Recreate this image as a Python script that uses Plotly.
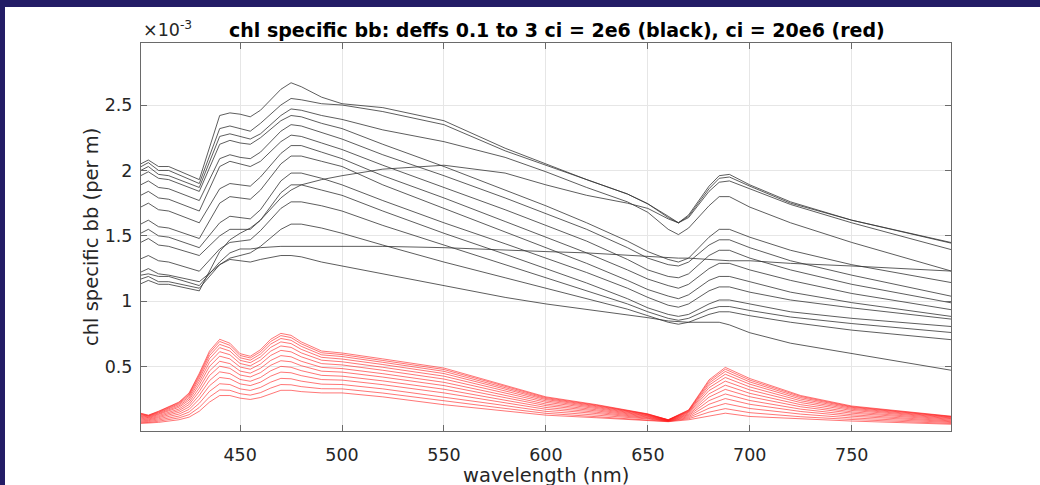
import plotly.graph_objects as go

# ---------------- data (y in units of 1e-3 per m) ----------------
wl_black = [400, 405, 410, 415, 430, 440, 445, 450, 455, 460, 470, 475, 480, 490, 500, 520,
            550, 580, 600, 620, 640, 650, 660, 665, 670, 680, 685, 690, 700, 720, 750, 800]

black_k1 = [2.04, 2.08, 2.03, 2.03, 1.93, 2.42, 2.44, 2.43, 2.41, 2.46, 2.62, 2.67, 2.64, 2.56, 2.51, 2.48,
            2.38, 2.17, 2.05, 1.93, 1.82, 1.745, 1.65, 1.60, 1.66, 1.88, 1.96, 1.97, 1.89, 1.76, 1.62, 1.445]
black_k2 = [2.017, 2.06, 2.00, 2.00, 1.90, 2.32, 2.34, 2.32, 2.30, 2.36, 2.50, 2.55, 2.54, 2.51, 2.50, 2.45,
            2.35, 2.15, 2.04, 1.93, 1.82, 1.745, 1.64, 1.60, 1.65, 1.86, 1.94, 1.95, 1.88, 1.75, 1.62, 1.44]
black_k3 = [1.99, 2.03, 1.97, 1.96, 1.87, 2.26, 2.28, 2.26, 2.24, 2.28, 2.42, 2.47, 2.46, 2.42, 2.39, 2.31,
            2.22, 2.10, 1.99, 1.87, 1.76, 1.68, 1.55, 1.51, 1.56, 1.73, 1.80, 1.80, 1.72, 1.60, 1.45, 1.226]
black_r = [1.125, 1.16, 1.13, 1.13, 1.08, 1.38, 1.47, 1.52, 1.56, 1.62, 1.79, 1.85, 1.89, 1.93, 1.96, 2.01,
           2.04, 1.98, 1.89, 1.81, 1.75, 1.71, 1.63, 1.60, 1.64, 1.84, 1.91, 1.92, 1.86, 1.74, 1.60, 1.39]
black_f = [1.196, 1.21, 1.19, 1.19, 1.12, 1.30, 1.37, 1.40, 1.40, 1.41, 1.42, 1.42, 1.42, 1.42, 1.42, 1.42,
           1.41, 1.39, 1.38, 1.37, 1.35, 1.34, 1.33, 1.33, 1.33, 1.32, 1.32, 1.31, 1.31, 1.29, 1.27, 1.23]
black_l = [1.163, 1.19, 1.15, 1.15, 1.10, 1.28, 1.32, 1.31, 1.30, 1.32, 1.35, 1.35, 1.34, 1.30, 1.27, 1.21,
           1.12, 1.03, 0.98, 0.94, 0.90, 0.875, 0.85, 0.845, 0.84, 0.84, 0.84, 0.82, 0.76, 0.68, 0.60, 0.47]
black_m1 = [1.95, 1.99, 1.94, 1.93, 1.84, 2.20, 2.23, 2.21, 2.20, 2.25, 2.38, 2.42, 2.41, 2.36, 2.32, 2.20,
            2.03, 1.85, 1.73, 1.60, 1.46, 1.38, 1.32, 1.30, 1.33, 1.49, 1.55, 1.55, 1.49, 1.39, 1.28, 1.14]
black_m2 = [1.88, 1.92, 1.87, 1.86, 1.77, 2.09, 2.12, 2.10, 2.09, 2.14, 2.30, 2.35, 2.34, 2.29, 2.24, 2.12,
            1.96, 1.79, 1.67, 1.55, 1.41, 1.33, 1.28, 1.27, 1.30, 1.43, 1.47, 1.47, 1.41, 1.31, 1.20, 1.035]
black_m3 = [1.80, 1.84, 1.79, 1.78, 1.69, 2.03, 2.07, 2.05, 2.03, 2.07, 2.22, 2.27, 2.26, 2.21, 2.16, 2.04,
            1.87, 1.70, 1.58, 1.46, 1.32, 1.24, 1.19, 1.18, 1.21, 1.35, 1.39, 1.39, 1.33, 1.24, 1.13, 0.985]
black_m4 = [1.71, 1.75, 1.70, 1.69, 1.60, 1.86, 1.90, 1.89, 1.88, 1.95, 2.13, 2.19, 2.19, 2.14, 2.09, 1.96,
            1.79, 1.61, 1.49, 1.37, 1.24, 1.17, 1.12, 1.10, 1.13, 1.25, 1.29, 1.29, 1.24, 1.16, 1.06, 0.933]
black_m5 = [1.58, 1.62, 1.57, 1.56, 1.48, 1.75, 1.80, 1.79, 1.78, 1.85, 2.05, 2.11, 2.11, 2.07, 2.03, 1.89,
            1.71, 1.53, 1.41, 1.29, 1.16, 1.09, 1.04, 1.02, 1.05, 1.16, 1.19, 1.19, 1.15, 1.07, 0.99, 0.882]
black_m6 = [1.51, 1.55, 1.50, 1.49, 1.41, 1.60, 1.65, 1.64, 1.63, 1.70, 1.92, 1.98, 1.98, 1.94, 1.89, 1.77,
            1.60, 1.44, 1.33, 1.22, 1.10, 1.03, 0.97, 0.955, 0.98, 1.08, 1.11, 1.11, 1.07, 1.01, 0.95, 0.862]
black_m7 = [1.44, 1.48, 1.43, 1.42, 1.35, 1.50, 1.55, 1.55, 1.55, 1.62, 1.83, 1.89, 1.89, 1.85, 1.81, 1.69,
            1.52, 1.36, 1.25, 1.14, 1.02, 0.95, 0.90, 0.885, 0.90, 0.98, 1.01, 1.01, 0.98, 0.92, 0.87, 0.806]
black_m8 = [1.316, 1.35, 1.31, 1.30, 1.23, 1.40, 1.45, 1.46, 1.47, 1.54, 1.71, 1.76, 1.76, 1.73, 1.69, 1.58,
            1.43, 1.28, 1.18, 1.08, 0.98, 0.92, 0.87, 0.855, 0.87, 0.94, 0.96, 0.96, 0.93, 0.88, 0.83, 0.76]
black_m9 = [1.214, 1.25, 1.21, 1.20, 1.15, 1.28, 1.33, 1.35, 1.37, 1.42, 1.55, 1.59, 1.59, 1.56, 1.52, 1.43,
            1.30, 1.18, 1.10, 1.02, 0.94, 0.89, 0.84, 0.825, 0.84, 0.90, 0.92, 0.92, 0.89, 0.84, 0.78, 0.705]

black_series = [black_k1, black_k2, black_k3, black_r, black_f, black_l, black_m1, black_m2,
                black_m3, black_m4, black_m5, black_m6, black_m7, black_m8, black_m9]

wl_red = [400, 405, 410, 420, 425, 430, 435, 440, 445, 450, 455, 460, 465, 470, 475, 480,
          490, 500, 520, 550, 575, 600, 625, 650, 660, 670, 680, 688, 700, 725, 750, 800]

red_01 = [.150, .130, .160, .230, .300, .450, .620, .710, .680, .600, .580, .630, .710, .755, .740, .690,
          .620, .605, .560, .490, .380, .270, .210, .140, .095, .170, .400, .495, .410, .280, .200, .120]
red_02 = [.147, .128, .157, .225, .293, .438, .604, .693, .664, .586, .567, .615, .693, .738, .723, .675,
          .607, .593, .548, .479, .372, .264, .206, .138, .094, .167, .389, .481, .398, .273, .195, .118]
red_03 = [.142, .124, .152, .218, .283, .424, .585, .671, .644, .569, .550, .597, .673, .716, .702, .656,
          .591, .578, .534, .465, .361, .257, .201, .136, .094, .163, .375, .464, .384, .264, .190, .115]
red_04 = [.137, .121, .147, .210, .272, .407, .562, .646, .620, .549, .531, .575, .648, .690, .677, .633,
          .572, .559, .517, .448, .349, .249, .195, .133, .093, .159, .359, .443, .367, .253, .183, .111]
red_05 = [.131, .116, .141, .200, .259, .386, .534, .615, .592, .525, .507, .550, .619, .659, .648, .606,
          .550, .538, .496, .428, .334, .239, .188, .129, .092, .154, .340, .418, .346, .240, .175, .107]
red_06 = [.125, .111, .135, .190, .245, .363, .503, .581, .560, .498, .481, .521, .586, .625, .614, .576,
          .524, .514, .473, .406, .317, .228, .180, .125, .091, .148, .318, .390, .323, .226, .166, .102]
red_07 = [.117, .106, .127, .177, .228, .337, .468, .542, .524, .467, .451, .488, .548, .585, .576, .542,
          .495, .486, .447, .381, .298, .215, .171, .121, .089, .141, .293, .359, .297, .210, .155, .097]
red_08 = [.109, .100, .119, .165, .211, .311, .433, .504, .488, .437, .422, .455, .511, .546, .538, .508,
          .466, .459, .421, .356, .279, .203, .162, .116, .088, .134, .268, .327, .271, .194, .145, .091]
red_09 = [.101, .094, .111, .152, .193, .282, .394, .461, .448, .403, .389, .418, .469, .503, .496, .470,
          .434, .428, .392, .328, .258, .189, .152, .111, .086, .127, .241, .292, .242, .176, .133, .085]
red_10 = [.092, .088, .102, .138, .174, .253, .355, .418, .408, .369, .356, .382, .428, .459, .454, .432,
          .402, .398, .363, .300, .237, .175, .142, .106, .085, .119, .213, .257, .213, .158, .122, .079]
red_11 = [.083, .081, .093, .123, .154, .221, .312, .370, .364, .331, .319, .342, .382, .411, .408, .390,
          .367, .364, .331, .269, .214, .159, .131, .101, .083, .111, .183, .219, .181, .138, .109, .073]
red_12 = [.074, .074, .084, .109, .134, .189, .269, .323, .320, .294, .283, .302, .337, .364, .362, .348,
          .332, .331, .299, .238, .191, .144, .120, .095, .082, .103, .153, .180, .149, .118, .097, .066]
red_13 = [.065, .068, .075, .095, .115, .160, .230, .280, .280, .260, .250, .265, .295, .320, .320, .310,
          .300, .300, .270, .210, .170, .130, .110, .090, .080, .095, .125, .145, .120, .100, .085, .060]

red_series = [red_01, red_02, red_03, red_04, red_05, red_06, red_07, red_08, red_09, red_10,
              red_11, red_12, red_13]

x_ticks = [450, 500, 550, 600, 650, 700, 750]
x_tick_labels = ["450", "500", "550", "600", "650", "700", "750"]
y_ticks = [0.5, 1.0, 1.5, 2.0, 2.5]
y_tick_labels = ["0.5", "1", "1.5", "2", "2.5"]

title_text = "chl specific bb: deffs 0.1 to 3 ci = 2e6 (black), ci = 20e6 (red)"
x_label = "wavelength (nm)"
y_label = "chl specific bb (per m)"

# ---------------- figure ----------------
FONT = "DejaVu Sans"
NAVY = "#231d66"
PAPER = "#ffffff"
fig = go.Figure()

for ys in red_series:
    fig.add_trace(go.Scatter(x=wl_red, y=ys, mode="lines",
                             line=dict(color="#ff1a1a", width=0.6),
                             hoverinfo="skip", showlegend=False))
for ys in black_series:
    fig.add_trace(go.Scatter(x=wl_black, y=ys, mode="lines",
                             line=dict(color="#333333", width=0.8),
                             hoverinfo="skip", showlegend=False))

L, R, T, B = 141, 89, 43, 54
W, H = 1040, 485
pw, ph = W - L - R, H - T - B


def px(xp):
    return (xp - L) / pw


def py(yp):
    return (H - B - yp) / ph


axis_common = dict(
    showline=True, linecolor="#6a6a6a", linewidth=1, mirror="ticks",
    ticks="inside", ticklen=6, tickcolor="#6a6a6a", tickwidth=1,
    showgrid=True, gridcolor="#e6e6e6", gridwidth=1, zeroline=False,
    tickfont=dict(family=FONT, size=17.5, color="#262626"),
)

fig.update_layout(
    width=W, height=H,
    margin=dict(l=L, r=R, t=T, b=B, pad=0),
    paper_bgcolor=PAPER, plot_bgcolor="white",
    showlegend=False,
    xaxis=dict(range=[401.4, 798.7], tickmode="array", tickvals=x_ticks, ticktext=x_tick_labels,
               ticklabelstandoff=8, **axis_common),
    yaxis=dict(range=[0.009, 2.974], tickmode="array", tickvals=y_ticks, ticktext=y_tick_labels,
               ticklabelstandoff=4, **axis_common),
    shapes=[
        # white cover for the right margin (keeps that area plain white like the reference)
        dict(type="rect", xref="paper", yref="paper", x0=px(956), x1=px(W + 5), y0=py(H + 5), y1=py(7),
             fillcolor="#ffffff", line=dict(width=0), layer="above"),
        # slide background strips (left and top edges)
        dict(type="rect", xref="paper", yref="paper", x0=px(-5), x1=px(5), y0=py(H + 5), y1=py(-5),
             fillcolor=NAVY, line=dict(width=0), layer="above"),
        dict(type="rect", xref="paper", yref="paper", x0=px(-5), x1=px(W + 5), y0=py(7), y1=py(-5),
             fillcolor=NAVY, line=dict(width=0), layer="above"),
    ],
    annotations=[
        dict(text="<b>" + title_text + "</b>", xref="paper", yref="paper", x=px(557), y=py(30),
             xanchor="center", yanchor="middle", showarrow=False,
             font=dict(family=FONT, size=19, color="#000000")),
        dict(text="\u00d710<sup>-3</sup>", xref="paper", yref="paper", x=px(141), y=py(42),
             xanchor="left", yanchor="bottom", showarrow=False,
             font=dict(family=FONT, size=17.5, color="#262626")),
        dict(text=y_label, xref="paper", yref="paper", x=px(91), y=py(237), textangle=-90,
             xanchor="center", yanchor="middle", showarrow=False,
             font=dict(family=FONT, size=19.5, color="#262626")),
        dict(text=x_label, xref="paper", yref="paper", x=px(546), y=py(475),
             xanchor="center", yanchor="middle", showarrow=False,
             font=dict(family=FONT, size=19.5, color="#262626")),
    ],
)

fig.write_html("out.html",
               config={"displayModeBar": False, "staticPlot": True},
               post_script="document.documentElement.style.margin='0px';"
                           "document.documentElement.style.overflow='hidden';"
                           "document.documentElement.style.background='#ffffff';"
                           "document.body.style.margin='0px';document.body.style.padding='0px';"
                           "document.body.style.overflow='hidden';"
                           "document.body.style.background='#ffffff';")
